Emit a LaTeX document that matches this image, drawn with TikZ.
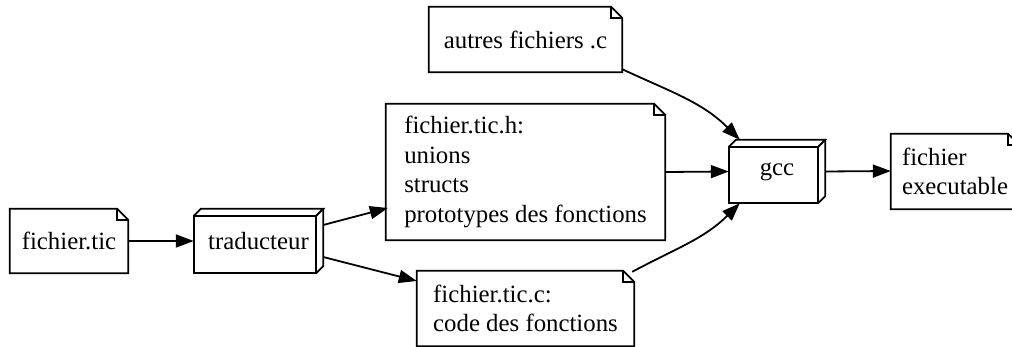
\documentclass[tikz,border=0pt]{standalone}
\usepackage{fontspec}
\setmainfont{Liberation Serif}
\usetikzlibrary{arrows.meta}
\newcommand\drawnote[1]{%
  \draw[outl] (#1.north west) -- ([xshift=-11pt]#1.north east) -- ([yshift=-11pt]#1.north east) -- (#1.south east) -- (#1.south west) -- cycle;
  \draw[outl] ([xshift=-11pt]#1.north east) -- ([xshift=-11pt,yshift=-11pt]#1.north east) -- ([yshift=-11pt]#1.north east);}
\newcommand\drawcube[1]{%
  \draw[outl] ([yshift=-7pt]#1.north west) rectangle ([xshift=-7pt]#1.south east);
  \draw[outl] ([yshift=-7pt]#1.north west) -- ([xshift=7pt]#1.north west) -- (#1.north east) -- ([xshift=-7pt,yshift=-7pt]#1.north east);
  \draw[outl] (#1.north east) -- ([yshift=7pt]#1.south east) -- ([xshift=-7pt]#1.south east);}
\begin{document}
\begin{tikzpicture}[x=1pt,y=-1pt,
  outl/.style={line width=1.8pt, line join=miter},
  box/.style={draw=none, inner sep=0pt, align=left, font=\fontsize{24.8}{29.5}\selectfont},
  conn/.style={line width=1.8pt, -{Triangle[length=18pt,width=13pt]}}]
\clip (0,0) rectangle (1012,347);
\fill[white] (0,0) rectangle (1012,347);
\node[box, minimum width=118pt, minimum height=64pt] (tic) at (69,241) {fichier.tic};
\node[box, minimum width=129pt, minimum height=64pt] (trad) at (258.5,241) {traducteur};
\node[box, minimum width=193pt, minimum height=65pt] (autres) at (525.5,39.5) {autres fichiers .c};
\node[box, minimum width=279pt, minimum height=136pt] (tich) at (525.5,172) {fichier.tic.h:\\unions\\structs\\prototypes des fonctions};
\node[box, minimum width=217pt, minimum height=75pt] (ticc) at (525.5,308.5) {fichier.tic.c:\\code des fonctions};
\node[box, minimum width=96pt, minimum height=63pt] (gcc) at (777,171.5) {gcc};
\node[box, minimum width=128pt, minimum height=75pt] (exec) at (955,171.5) {fichier\\executable};
\drawnote{tic}
\drawnote{autres}
\drawnote{tich}
\drawnote{ticc}
\drawnote{exec}
\drawcube{trad}
\drawcube{gcc}
\draw[conn] (tic.east) -- (trad.west);
\draw[conn] ([yshift=16pt]trad.east) -- ([yshift=-36pt,xshift=2pt]tich.west);
\draw[conn] ([yshift=-16pt]trad.east) -- ([yshift=27.5pt]ticc.west);
\draw[conn] ([yshift=3pt]autres.south east) to[out=-25,in=135] ([xshift=11pt]gcc.north west);
\draw[conn] (tich.east) -- (gcc.west);
\draw[conn] ([xshift=-2pt,yshift=-1pt]ticc.north east) to[out=28,in=-135] ([xshift=11pt]gcc.south west);
\draw[conn] (gcc.east) -- ([yshift=0.5pt]exec.west);
\end{tikzpicture}
\end{document}
